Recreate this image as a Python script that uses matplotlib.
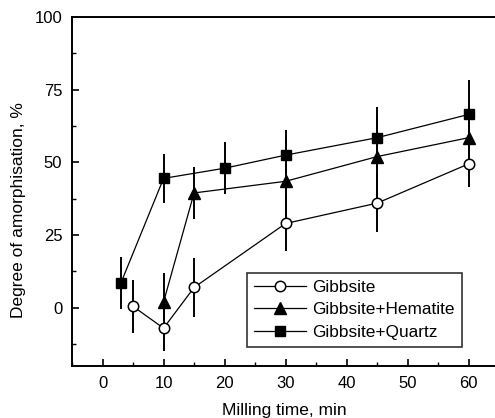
import numpy as np
import matplotlib.pyplot as plt
from matplotlib.ticker import MultipleLocator

# data
t_gib = [5, 10, 15, 30, 45, 60]
y_gib = [0.5, -7, 7, 29, 36, 49.5]
e_gib = [9, 8, 10, 9.5, 10, 8]

t_hem = [10, 15, 30, 45, 60]
y_hem = [2, 39.5, 43.5, 52, 58.5]
e_hem = [10, 9, 14, 14, 9]

t_qtz = [3, 10, 20, 30, 45, 60]
y_qtz = [8.5, 44.5, 48, 52.5, 58.5, 66.5]
e_qtz = [9, 8.5, 9, 8.5, 10.5, 12]

labels = ['Gibbsite', 'Gibbsite+Hematite', 'Gibbsite+Quartz']

plt.rcParams['font.family'] = ['Liberation Sans', 'DejaVu Sans']

fig = plt.figure(figsize=(4.95, 4.18), dpi=100)
ax = fig.add_axes([0.1455, 0.1244, 0.863, 0.835])

kw = dict(color='black', ecolor='black', elinewidth=1.4, capsize=0, lw=0.9, zorder=3)
c1 = ax.errorbar(t_gib, y_gib, yerr=e_gib, marker='o', mfc='white', mec='black',
                 mew=1.1, ms=7.5, **kw)
c2 = ax.errorbar(t_hem, y_hem, yerr=e_hem, marker='^', mfc='black', mec='black',
                 ms=8, **kw)
c3 = ax.errorbar(t_qtz, y_qtz, yerr=e_qtz, marker='s', mfc='black', mec='black',
                 ms=6.5, **kw)

ax.set_xlim(-5, 65)
ax.set_ylim(-20, 100)
ax.xaxis.set_major_locator(MultipleLocator(10))
ax.xaxis.set_minor_locator(MultipleLocator(5))
ax.yaxis.set_major_locator(MultipleLocator(25))
ax.yaxis.set_minor_locator(MultipleLocator(12.5))
ax.tick_params(which='major', direction='in', length=5, width=1.2, labelsize=12, pad=7)
ax.tick_params(which='minor', direction='in', length=3, width=1.0)
for s in ax.spines.values():
    s.set_linewidth(1.4)

ax.set_xlabel('Milling time, min', fontsize=12.5)
ax.set_ylabel('Degree of amorphisation, %', fontsize=12.5)
ax.xaxis.set_label_coords(0.497, -0.105)
ax.yaxis.set_label_coords(-0.108, 0.447)

# legend shows marker + line only, no error bars
leg = ax.legend([c1[0], c2[0], c3[0]], labels, loc='lower left',
                bbox_to_anchor=(0.41, 0.054), fontsize=12.4,
                frameon=True, fancybox=False, edgecolor='black', handlelength=3.0,
                borderpad=0.4, labelspacing=0.45, handletextpad=0.4, borderaxespad=0)
leg.get_frame().set_linewidth(1.2)

fig.savefig('out.png', dpi=100)
